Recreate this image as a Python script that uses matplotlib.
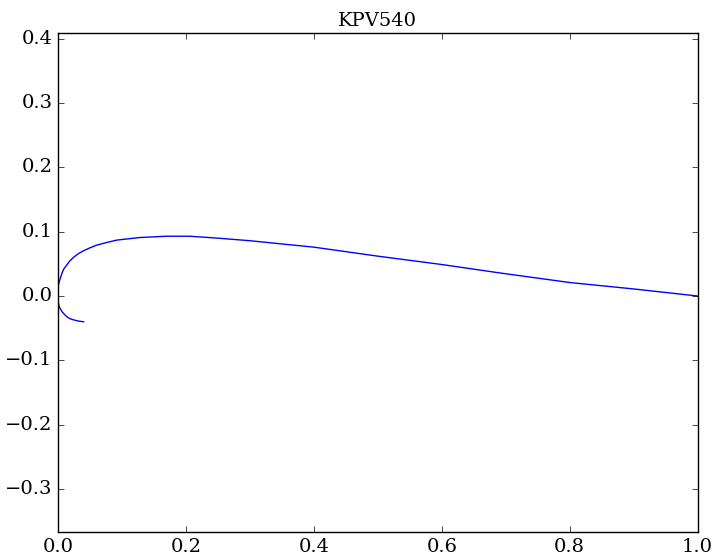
"""
Airfoil outline plot: KPV540 (upper surface from the trailing edge,
round the nose, then a short stretch of the lower surface).
"""

import matplotlib
matplotlib.use("Agg")
import matplotlib.pyplot as plt

# outline coordinates
x_coords = [1.000, 0.900, 0.800, 0.690, 0.600, 0.500, 0.400, 0.300, 0.250,
            0.206, 0.170, 0.128, 0.110, 0.092, 0.075, 0.060, 0.050, 0.040,
            0.032, 0.024, 0.018, 0.0135, 0.009, 0.006, 0.003, 0.0005, 0.000,
            0.0005, 0.002, 0.006, 0.0095, 0.0135, 0.018, 0.024, 0.032, 0.040]
y_coords = [0.000, 0.011, 0.021, 0.036, 0.049, 0.062, 0.076, 0.086, 0.090,
            0.093, 0.093, 0.091, 0.089, 0.087, 0.083, 0.079, 0.075, 0.0705,
            0.066, 0.060, 0.054, 0.048, 0.042, 0.035, 0.026, 0.017, 0.000,
            -0.011, -0.017, -0.024, -0.028, -0.032, -0.035, -0.037, -0.039,
            -0.040]

title = "KPV540"


def plot_airfoil(xs, ys, name):
    plt.style.use("classic")
    plt.rcParams["font.family"] = ["DejaVu Serif"]
    plt.rcParams["font.size"] = 14

    fig = plt.figure(figsize=(7.2, 5.6), dpi=100)
    ax = fig.add_axes([0.0806, 0.05, 0.8883, 0.891])
    ax.plot(xs, ys, color="b", linewidth=1.0)
    ax.set_xlim(0.0, 1.0)
    ax.set_ylim(-0.367, 0.409)
    ax.set_xticks([0.0, 0.2, 0.4, 0.6, 0.8, 1.0])
    ax.set_yticks([-0.3, -0.2, -0.1, 0.0, 0.1, 0.2, 0.3, 0.4])
    ax.set_title(name, fontsize=14)
    fig.savefig("out.png", dpi=100)


def main():
    plot_airfoil(x_coords, y_coords, title)


if __name__ == "__main__":
    main()
